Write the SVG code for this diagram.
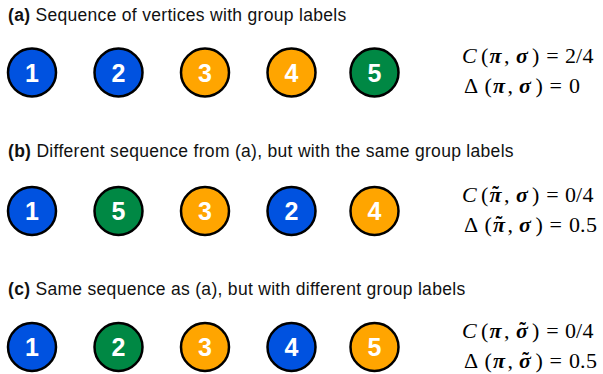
<svg xmlns="http://www.w3.org/2000/svg" width="603" height="374" viewBox="0 0 603 374">
<style>
.title{font-family:"Liberation Sans",Arial,sans-serif;font-size:17.5px;letter-spacing:0.3px;fill:#111}
.title .b{font-weight:bold}
.node circle{stroke:#000;stroke-width:2.5}
.node text{font-family:"Liberation Sans",Arial,sans-serif;font-weight:bold;font-size:25px;fill:#fff;text-anchor:middle}
.blue{fill:#0052E0}
.orange{fill:#FFA500}
.green{fill:#008844}
.math{font-family:"Liberation Serif","Times New Roman",serif;font-size:22px;fill:#000}
.math .c{font-style:italic}
.math .v{font-style:italic;font-weight:bold}
.tl{font-family:"Liberation Serif","Times New Roman",serif;font-size:20px;font-weight:bold;fill:#000;text-anchor:middle}
</style>
<rect width="603" height="374" fill="#fff"/>
<text class="title" x="8" y="21"><tspan class="b">(a)</tspan> Sequence of vertices with group labels</text>
<text class="title" x="8" y="157"><tspan class="b">(b)</tspan> Different sequence from (a), but with the same group labels</text>
<text class="title" x="8" y="295"><tspan class="b">(c)</tspan> Same sequence as (a), but with different group labels</text>

<g id="a1" class="node"><circle class="blue" cx="32" cy="72.5" r="24"/><text x="32" y="81.5">1</text></g>
<g id="a2" class="node"><circle class="blue" cx="118.5" cy="72.5" r="24"/><text x="118.5" y="81.5">2</text></g>
<g id="a3" class="node"><circle class="orange" cx="205" cy="72.5" r="24"/><text x="205" y="81.5">3</text></g>
<g id="a4" class="node"><circle class="orange" cx="291.5" cy="72.5" r="24"/><text x="291.5" y="81.5">4</text></g>
<g id="a5" class="node"><circle class="green" cx="374.5" cy="72.5" r="24"/><text x="374.5" y="81.5">5</text></g>

<g id="b1" class="node"><circle class="blue" cx="32" cy="211" r="24"/><text x="32" y="220">1</text></g>
<g id="b5" class="node"><circle class="green" cx="118.5" cy="211" r="24"/><text x="118.5" y="220">5</text></g>
<g id="b3" class="node"><circle class="orange" cx="205" cy="211" r="24"/><text x="205" y="220">3</text></g>
<g id="b2" class="node"><circle class="blue" cx="291.5" cy="211" r="24"/><text x="291.5" y="220">2</text></g>
<g id="b4" class="node"><circle class="orange" cx="374.5" cy="211" r="24"/><text x="374.5" y="220">4</text></g>

<g id="c1" class="node"><circle class="blue" cx="32" cy="347" r="24"/><text x="32" y="356">1</text></g>
<g id="c2" class="node"><circle class="green" cx="118.5" cy="347" r="24"/><text x="118.5" y="356">2</text></g>
<g id="c3" class="node"><circle class="orange" cx="205" cy="347" r="24"/><text x="205" y="356">3</text></g>
<g id="c4" class="node"><circle class="blue" cx="291.5" cy="347" r="24"/><text x="291.5" y="356">4</text></g>
<g id="c5" class="node"><circle class="orange" cx="374.5" cy="347" r="24"/><text x="374.5" y="356">5</text></g>

<g id="formulas">
<!-- (a) -->
<text class="math" y="63"><tspan class="c" x="462">C</tspan><tspan x="481">(</tspan><tspan class="v" x="489.5">π</tspan><tspan x="504">,</tspan><tspan class="v" x="516">σ</tspan><tspan x="532">)</tspan><tspan x="546.3">=</tspan><tspan x="565">2</tspan><tspan x="576">/</tspan><tspan x="582.5">4</tspan></text>
<text class="math" y="93"><tspan x="464">Δ</tspan><tspan x="484.5">(</tspan><tspan class="v" x="493">π</tspan><tspan x="507.5">,</tspan><tspan class="v" x="519">σ</tspan><tspan x="535.5">)</tspan><tspan x="549.5">=</tspan><tspan x="569">0</tspan></text>
<!-- (b) -->
<text class="math" y="202"><tspan class="c" x="462">C</tspan><tspan x="481">(</tspan><tspan class="v" x="489.5">π</tspan><tspan x="504">,</tspan><tspan class="v" x="516">σ</tspan><tspan x="532">)</tspan><tspan x="546.3">=</tspan><tspan x="565">0</tspan><tspan x="576">/</tspan><tspan x="582.5">4</tspan></text>
<text class="tl" x="495.5" y="201">˜</text>
<text class="math" y="232"><tspan x="464">Δ</tspan><tspan x="484.5">(</tspan><tspan class="v" x="493">π</tspan><tspan x="507.5">,</tspan><tspan class="v" x="519">σ</tspan><tspan x="535.5">)</tspan><tspan x="549.5">=</tspan><tspan x="569">0</tspan><tspan x="580">.</tspan><tspan x="586">5</tspan></text>
<text class="tl" x="499" y="231">˜</text>
<!-- (c) -->
<text class="math" y="338"><tspan class="c" x="462">C</tspan><tspan x="481">(</tspan><tspan class="v" x="489.5">π</tspan><tspan x="504">,</tspan><tspan class="v" x="516">σ</tspan><tspan x="532">)</tspan><tspan x="546.3">=</tspan><tspan x="565">0</tspan><tspan x="576">/</tspan><tspan x="582.5">4</tspan></text>
<text class="tl" x="522.5" y="337">˜</text>
<text class="math" y="368"><tspan x="464">Δ</tspan><tspan x="484.5">(</tspan><tspan class="v" x="493">π</tspan><tspan x="507.5">,</tspan><tspan class="v" x="519">σ</tspan><tspan x="535.5">)</tspan><tspan x="549.5">=</tspan><tspan x="569">0</tspan><tspan x="580">.</tspan><tspan x="586">5</tspan></text>
<text class="tl" x="525.5" y="367">˜</text>
</g>
</svg>
